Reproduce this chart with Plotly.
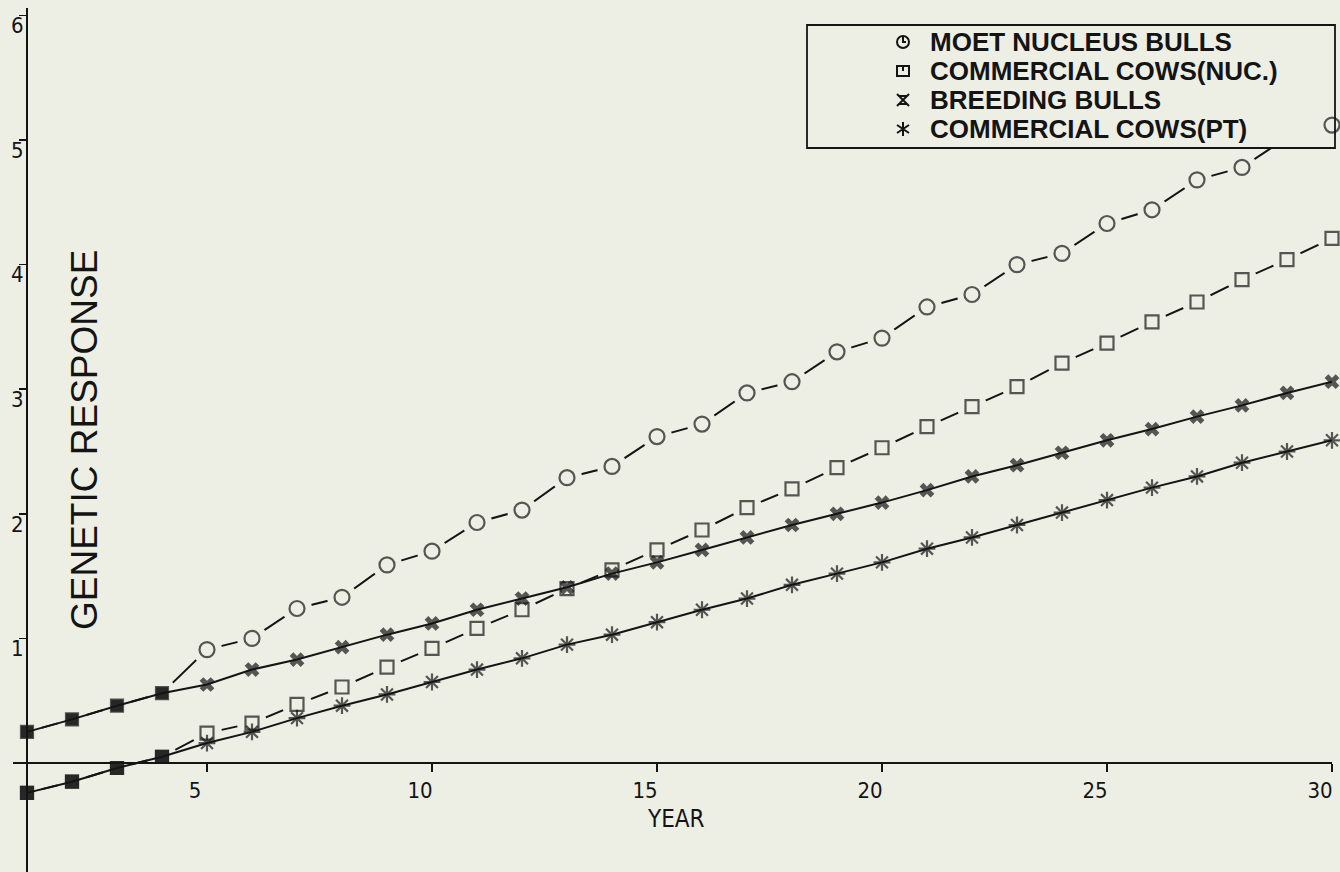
import plotly.graph_objects as go

# ---------------- data ----------------
years = list(range(1, 31))
moet_nucleus_bulls = [0.25, 0.35, 0.46, 0.56, 0.91, 1.00, 1.24, 1.33, 1.59, 1.70,
                      1.93, 2.03, 2.29, 2.38, 2.62, 2.72, 2.97, 3.06, 3.30, 3.41,
                      3.66, 3.76, 4.00, 4.09, 4.33, 4.44, 4.68, 4.78, 5.02, 5.12]
commercial_cows_nuc = [-0.24, -0.15, -0.04, 0.05, 0.24, 0.32, 0.47, 0.61, 0.77, 0.92,
                       1.08, 1.23, 1.40, 1.55, 1.71, 1.87, 2.05, 2.20, 2.37, 2.53,
                       2.70, 2.86, 3.02, 3.21, 3.37, 3.54, 3.70, 3.88, 4.04, 4.21]
breeding_bulls = [0.25, 0.35, 0.46, 0.56, 0.63, 0.75, 0.83, 0.93, 1.03, 1.12,
                  1.23, 1.32, 1.41, 1.52, 1.61, 1.71, 1.81, 1.91, 2.00, 2.09,
                  2.19, 2.30, 2.39, 2.49, 2.59, 2.68, 2.78, 2.87, 2.97, 3.06]
commercial_cows_pt = [-0.24, -0.15, -0.04, 0.05, 0.16, 0.25, 0.36, 0.46, 0.55, 0.65,
                      0.75, 0.84, 0.95, 1.03, 1.13, 1.23, 1.32, 1.43, 1.52, 1.61,
                      1.72, 1.81, 1.91, 2.01, 2.11, 2.21, 2.30, 2.41, 2.50, 2.59]
legend_labels = ["MOET NUCLEUS BULLS", "COMMERCIAL COWS(NUC.)",
                 "BREEDING BULLS", "COMMERCIAL COWS(PT)"]
x_tick_vals = [5, 10, 15, 20, 25, 30]
y_tick_vals = [1, 2, 3, 4, 5, 6]

# ---------------- layout geometry (reference window pixels) ----------------
W, H = 1340, 872
OFF = 0              # body margin removed via post_script
PAPER = "#EDEFE5"
INK = "#141414"
KX = 45.0            # px per year
KY = 124.6           # px per unit response
X_AX_LEFT, X_AX_RIGHT = 13, 1332
YEAR1_PX = 27
ZERO_PX = 763
Y_TOP_PX = 8

x_range = [1 - (YEAR1_PX - X_AX_LEFT) / KX, 1 + (X_AX_RIGHT - YEAR1_PX) / KX]
y_range = [-(H + OFF - ZERO_PX) / KY, (ZERO_PX - Y_TOP_PX) / KY]

COND = "DejaVu Sans Condensed, Liberation Sans Narrow, Roboto, sans-serif"
SANS = "Liberation Sans, Arial, Helvetica, sans-serif"

N_OVERLAP = 4  # first years where series coincide -> filled squares


def px2x(p):
    return (p - OFF) / W


def px2y(p):
    return 1 - (p - OFF) / H


def sym(base):
    return ["square" if i < N_OVERLAP else base for i in range(len(years))]


def sizes(base):
    return [12 if i < N_OVERLAP else base for i in range(len(years))]


fig = go.Figure()

# dashed-looking series: line, then a paper-coloured halo (gap), then markers
for ys in (moet_nucleus_bulls, commercial_cows_nuc):
    fig.add_trace(go.Scatter(x=years, y=ys, mode="lines", showlegend=False,
                             line=dict(color=INK, width=2), cliponaxis=False,
                             hoverinfo="skip"))
for ys in (moet_nucleus_bulls, commercial_cows_nuc):
    fig.add_trace(go.Scatter(x=years, y=ys, mode="markers", showlegend=False,
                             marker=dict(symbol="circle", size=30, color=PAPER,
                                         line=dict(width=0)),
                             cliponaxis=False, hoverinfo="skip"))

fig.add_trace(go.Scatter(x=years, y=breeding_bulls, mode="lines+markers",
                         name=legend_labels[2], showlegend=False,
                         line=dict(color=INK, width=2),
                         marker=dict(symbol=sym("x"), size=sizes(13), color=INK,
                                     line=dict(width=0)),
                         cliponaxis=False))
fig.add_trace(go.Scatter(x=years, y=commercial_cows_pt, mode="lines+markers",
                         name=legend_labels[3], showlegend=False,
                         line=dict(color=INK, width=2),
                         marker=dict(symbol=sym("asterisk-open"), size=sizes(14),
                                     color=INK, line=dict(width=2.2, color=INK)),
                         cliponaxis=False))
fig.add_trace(go.Scatter(x=years, y=moet_nucleus_bulls, mode="markers",
                         name=legend_labels[0], showlegend=False,
                         marker=dict(symbol=sym("circle-open"), size=sizes(15),
                                     color=INK, line=dict(width=2.2, color=INK)),
                         cliponaxis=False))
fig.add_trace(go.Scatter(x=years, y=commercial_cows_nuc, mode="markers",
                         name=legend_labels[1], showlegend=False,
                         marker=dict(symbol=sym("square-open"), size=sizes(13),
                                     color=INK, line=dict(width=2.2, color=INK)),
                         cliponaxis=False))

# ---------------- legend (box, keys, text) ----------------
BOX = dict(x0=807, x1=1335, y0=25, y1=148)
ROWS = [42, 71, 100, 129]
KEY_X = 903
TEXT_X = 928
R = 6

shapes = [
    dict(type="rect", xref="paper", yref="paper", layer="above",
         x0=px2x(BOX["x0"]), x1=px2x(1322), y0=px2y(BOX["y0"]), y1=px2y(BOX["y1"]),
         fillcolor=PAPER, line=dict(width=0)),
    dict(type="rect", xref="paper", yref="paper", layer="above",
         x0=px2x(BOX["x0"]), x1=px2x(BOX["x1"]), y0=px2y(BOX["y0"]), y1=px2y(BOX["y1"]),
         line=dict(color=INK, width=1.8)),
]


def path_shape(d):
    return dict(type="path", xref="paper", yref="paper", layer="above",
                path=d, line=dict(color=INK, width=2))


def P(x, y):
    return f"{px2x(x)},{px2y(y)}"


cy = ROWS[0]
shapes.append(dict(type="circle", xref="paper", yref="paper", layer="above",
                   x0=px2x(KEY_X - R), x1=px2x(KEY_X + R),
                   y0=px2y(cy - R), y1=px2y(cy + R), line=dict(color=INK, width=2)))
shapes.append(path_shape(f"M{P(KEY_X, cy - R)} L{P(KEY_X, cy)} L{P(KEY_X + 3, cy)}"))
cy = ROWS[1]
shapes.append(dict(type="rect", xref="paper", yref="paper", layer="above",
                   x0=px2x(KEY_X - R), x1=px2x(KEY_X + R),
                   y0=px2y(cy - R + 1), y1=px2y(cy + R - 1), line=dict(color=INK, width=2)))
shapes.append(path_shape(f"M{P(KEY_X, cy - R)} L{P(KEY_X, cy)}"))
cy = ROWS[2]
shapes.append(path_shape(f"M{P(KEY_X - R, cy - R)} L{P(KEY_X + R, cy + R)} "
                         f"M{P(KEY_X + R, cy - R)} L{P(KEY_X - R, cy + R)} "
                         f"M{P(KEY_X - 4, cy - 4)} L{P(KEY_X + 4, cy - 4)} "
                         f"M{P(KEY_X - 4, cy + 4)} L{P(KEY_X + 4, cy + 4)}"))
cy = ROWS[3]
shapes.append(path_shape(f"M{P(KEY_X, cy - R - 1)} L{P(KEY_X, cy + R + 1)} "
                         f"M{P(KEY_X - R, cy - 4)} L{P(KEY_X + R, cy + 4)} "
                         f"M{P(KEY_X + R, cy - 4)} L{P(KEY_X - R, cy + 4)}"))

annotations = []
for lbl, ry in zip(legend_labels, ROWS):
    annotations.append(dict(text=lbl, xref="paper", yref="paper",
                            x=px2x(TEXT_X), y=px2y(ry), xanchor="left", yanchor="middle",
                            showarrow=False,
                            font=dict(family=SANS, size=26, color=INK, weight="bold")))

annotations.append(dict(text="GENETIC RESPONSE", xref="paper", yref="paper",
                        x=px2x(84), y=px2y(440), textangle=-90, showarrow=False,
                        xanchor="center", yanchor="middle",
                        font=dict(family=SANS, size=37, color=INK)))
annotations.append(dict(text="YEAR", xref="paper", yref="paper",
                        x=px2x(676), y=px2y(819), showarrow=False,
                        xanchor="center", yanchor="middle",
                        font=dict(family=COND, size=24, color=INK)))

fig.update_layout(
    width=W, height=H,
    margin=dict(l=0, r=0, t=0, b=0),
    paper_bgcolor=PAPER, plot_bgcolor="rgba(0,0,0,0)",
    showlegend=False, hovermode=False,
    shapes=shapes, annotations=annotations,
    xaxis=dict(domain=[px2x(X_AX_LEFT), px2x(X_AX_RIGHT)], range=x_range,
               anchor="free", position=px2y(ZERO_PX),
               showgrid=False, zeroline=False, showline=True,
               linecolor=INK, linewidth=2,
               tickmode="array", tickvals=x_tick_vals,
               ticktext=[str(v) for v in x_tick_vals],
               ticks="outside", ticklen=8, tickwidth=1.5, tickcolor=INK,
               ticklabelshift=-12,
               tickfont=dict(family=COND, size=22, color=INK)),
    yaxis=dict(domain=[0, px2y(Y_TOP_PX)], range=y_range,
               anchor="free", position=px2x(YEAR1_PX),
               showgrid=False, zeroline=False, showline=True,
               linecolor=INK, linewidth=2,
               tickmode="array", tickvals=y_tick_vals,
               ticktext=[str(v) for v in y_tick_vals],
               ticks="outside", ticklen=7, tickwidth=1.5, tickcolor=INK,
               ticklabelshift=10, ticklabelstandoff=-9,
               tickfont=dict(family=COND, size=22, color=INK)),
)

fig.write_html("out.html",
               config={"displayModeBar": False, "staticPlot": True},
               post_script="document.body.style.margin='0';"
                           "document.body.style.background='" + PAPER + "';")
